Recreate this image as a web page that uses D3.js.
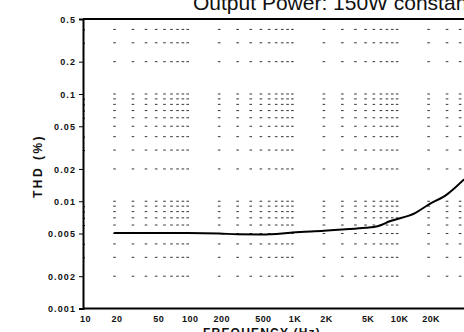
<!DOCTYPE html>
<html>
<head>
<meta charset="utf-8">
<script src="https://cdn.jsdelivr.net/npm/d3@7"></script>
<style>
  html, body { margin: 0; padding: 0; background: #fff; overflow: hidden; }
  svg { display: block; }
</style>
</head>
<body>
<script>
// THD versus frequency at constant output power
const titleText = "Output Power: 150W constant";
const xTitle = "FREQUENCY (Hz)";
const yTitle = "THD (%)";

const freqHz = [20, 50, 100, 200, 300, 500, 800, 1000, 2000, 3000, 5000, 6500, 8500, 15000, 20000, 30000, 43000];
const thdPct = [0.00506, 0.00505, 0.00505, 0.00500, 0.00492, 0.00490, 0.00500, 0.00510, 0.00530, 0.00545, 0.00565, 0.00585, 0.00650, 0.00780, 0.00930, 0.01160, 0.01580];

const yTickValues = [0.001, 0.002, 0.005, 0.01, 0.02, 0.05, 0.1, 0.2, 0.5];
const yTickLabels = ["0.001", "0.002", "0.005", "0.01", "0.02", "0.05", "0.1", "0.2", "0.5"];
const xTickValues = [10, 20, 50, 100, 200, 500, 1000, 2000, 5000, 10000, 20000, 50000];
const xTickLabels = ["10", "20", "50", "100", "200", "500", "1K", "2K", "5K", "10K", "20K", "50K"];

const W = 464, H = 332;
const plotLeft = 83, plotBottom = 308.5, plotTop = 19;

const x = d3.scaleLog().domain([10, 100000]).range([plotLeft, plotLeft + 4 * 104.7]);
const y = d3.scaleLog().domain([0.001, 0.5]).range([plotBottom, plotTop]);

// minor grid positions: 1..9 of every decade
const decadeSteps = d3.range(1, 10);
const gridX = [];
[10, 100, 1000, 10000].forEach(d => decadeSteps.forEach(k => { if (d * k > 10) gridX.push(d * k); }));
const gridY = [];
[0.001, 0.01, 0.1].forEach(d => decadeSteps.forEach(k => { const v = +(d * k).toPrecision(3); if (v <= 0.5) gridY.push(v); }));

const svg = d3.select("body").append("svg")
  .attr("width", W).attr("height", H)
  .style("font-family", "'Liberation Sans', Arial, Helvetica, sans-serif");

svg.append("rect").attr("width", W).attr("height", H).attr("fill", "#fff");

// dotted grid: a short dash at every minor intersection
const marks = [];
gridX.forEach(fx => gridY.forEach(vy => marks.push([fx, vy])));
svg.append("g").selectAll("line").data(marks).join("line")
  .attr("x1", d => x(d[0]) - 1.3).attr("x2", d => x(d[0]) + 1.3)
  .attr("y1", d => y(d[1])).attr("y2", d => y(d[1]))
  .attr("stroke", "#333").attr("stroke-width", 1);

// frame: top and bottom edges
svg.append("line").attr("x1", plotLeft).attr("x2", W).attr("y1", y(0.5)).attr("y2", y(0.5))
  .attr("stroke", "#000").attr("stroke-width", 2);
svg.append("line").attr("x1", plotLeft).attr("x2", W).attr("y1", y(0.001)).attr("y2", y(0.001))
  .attr("stroke", "#000").attr("stroke-width", 2);

// left axis with labelled ticks outside and minor ticks inside
const yAxis = d3.axisLeft(y).tickValues(yTickValues)
  .tickFormat((d, i) => yTickLabels[i]).tickSize(4).tickPadding(3);
const gy = svg.append("g").attr("transform", `translate(${plotLeft},0)`).call(yAxis);
gy.select(".domain").attr("stroke", "#000").attr("stroke-width", 2);
gy.selectAll(".tick line").attr("stroke", "#000").attr("stroke-width", 1);
gy.selectAll(".tick text")
  .attr("fill", "#111").style("font-size", "9px").style("font-weight", "bold")
  .style("letter-spacing", "1.1px").attr("dy", "0.35em");

const yMinor = d3.axisRight(y).tickValues(gridY.filter(v => !yTickValues.includes(v)))
  .tickFormat("").tickSize(2);
const gym = svg.append("g").attr("transform", `translate(${plotLeft},0)`).call(yMinor);
gym.select(".domain").remove();
gym.selectAll(".tick line").attr("stroke", "#000").attr("stroke-width", 1);

// bottom labels
const xAxis = d3.axisBottom(x).tickValues(xTickValues)
  .tickFormat((d, i) => xTickLabels[i]).tickSize(0).tickPadding(7);
const gx = svg.append("g").attr("transform", `translate(0,${plotBottom})`).call(xAxis);
gx.select(".domain").remove();
gx.selectAll(".tick text")
  .attr("fill", "#111").attr("dx", 2).style("font-size", "9px").style("font-weight", "bold")
  .style("letter-spacing", "0.4px");

// THD curve
const line = d3.line()
  .x((d, i) => x(freqHz[i]))
  .y((d, i) => y(thdPct[i]))
  .curve(d3.curveMonotoneX);
svg.append("path").datum(thdPct).attr("d", line)
  .attr("fill", "none").attr("stroke", "#000").attr("stroke-width", 2)
  .attr("stroke-linejoin", "round").attr("stroke-linecap", "round");

// titles
svg.append("text").attr("x", 193).attr("y", 10)
  .attr("fill", "#111").style("font-size", "21px").text(titleText);

svg.append("text")
  .attr("transform", "translate(42,166) rotate(-90)")
  .attr("text-anchor", "middle").attr("fill", "#111")
  .style("font-size", "12px").style("font-weight", "bold").style("letter-spacing", "2.5px")
  .text(yTitle);

svg.append("text").attr("x", 203).attr("y", 337)
  .attr("fill", "#111").style("font-size", "12px").style("font-weight", "bold")
  .style("letter-spacing", "1.2px").text(xTitle);
</script>
</body>
</html>
